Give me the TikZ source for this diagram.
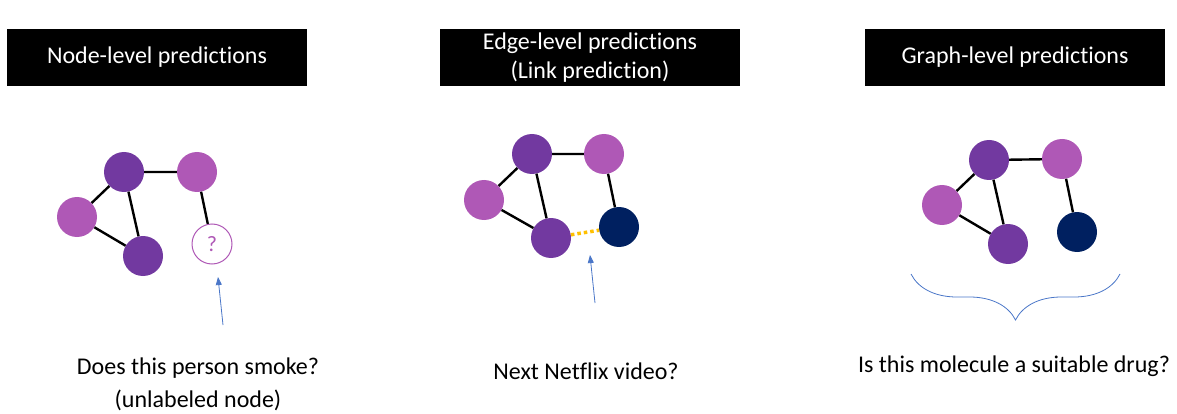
\documentclass[tikz,border=0pt]{standalone}
\usepackage{fontspec}
\setmainfont[Ligatures=NoCommon]{Carlito}
\usetikzlibrary{positioning,arrows.meta,decorations.pathreplacing}
\definecolor{darkpurple}{HTML}{7239A0}
\definecolor{lightpurple}{HTML}{AF58B6}
\definecolor{navy}{HTML}{002060}
\definecolor{gold}{HTML}{FFC000}
\definecolor{arrowblue}{HTML}{4A76C8}

\begin{document}
\begin{tikzpicture}[x=1pt,y=-1pt,
    title/.style={fill=black,text=white,minimum width=300pt,minimum height=57pt,
      align=center,font=\fontsize{24}{29}\selectfont},
    dark/.style={circle,fill=darkpurple,minimum size=40pt,inner sep=0pt},
    light/.style={circle,fill=lightpurple,minimum size=40pt,inner sep=0pt},
    target/.style={circle,fill=navy,minimum size=40pt,inner sep=0pt},
    unknown/.style={circle,draw=lightpurple,line width=1pt,fill=white,text=lightpurple,
      minimum size=40pt,inner sep=0pt,font=\fontsize{22}{22}\selectfont},
    link/.style={line width=2.4pt},
    pointer/.style={arrowblue,line width=0.8pt,-{Triangle[length=8pt,width=6pt]}},
    question/.style={align=center,font=\fontsize{24}{33}\selectfont}]
  \useasboundingbox (0,0) rectangle (1177,414);

  \node[title] (t1) at (157,57.5) {Node-level predictions};
  \node[title] (t2) at (590,57.5) {Edge-level predictions\\(Link prediction)};
  \node[title] (t3) at (1015,57.5) {Graph-level predictions};

  % node level
  \node[dark] (n1) at (124,172) {};
  \node[light] (n2) at (197,172) {};
  \node[light] (n3) at (77,217) {};
  \node[dark] (n4) at (143,256) {};
  \node[unknown] (n5) at (212,244) {?};
  \draw[link] (n1) -- (n2) (n1) -- (n3) (n1) -- (n4) (n3) -- (n4) (n2) -- (n5);
  \coordinate (p1) at (223,325);
  \coordinate (q1) at (218,277);
  \draw[pointer] (p1) -- (q1);
  \node[question] (d1) at (198,384) {Does this person smoke?\\(unlabeled node)};

  % edge level
  \node[dark] (e1) at (532,154) {};
  \node[light] (e2) at (604,154) {};
  \node[light] (e3) at (484,200) {};
  \node[dark] (e4) at (551,238) {};
  \node[target] (e5) at (619,227) {};
  \draw[link] (e1) -- (e2) (e1) -- (e3) (e1) -- (e4) (e3) -- (e4) (e2) -- (e5);
  \draw[gold,line width=3.5pt,dash pattern=on 3.5pt off 3pt] (e4) -- (e5);
  \coordinate (p2) at (595,303);
  \coordinate (q2) at (590,255);
  \draw[pointer] (p2) -- (q2);
  \node[question] (d2) at (586,371) {Next Netflix video?};

  % graph level
  \node[dark] (g1) at (989,160) {};
  \node[light] (g2) at (1062,159) {};
  \node[light] (g3) at (942,205) {};
  \node[dark] (g4) at (1008,244) {};
  \node[target] (g5) at (1077,232) {};
  \draw[link] (g1) -- (g2) (g1) -- (g3) (g1) -- (g4) (g3) -- (g4) (g2) -- (g5);
  \coordinate (b1) at (911,274);
  \coordinate (b2) at (1120,274);
  \draw[arrowblue,line width=0.8pt,decorate,decoration={brace,mirror,amplitude=46pt}] (b1) -- (b2);
  \node[question] (d3) at (1014,366) {Is this molecule a suitable drug?};
\end{tikzpicture}
\end{document}
